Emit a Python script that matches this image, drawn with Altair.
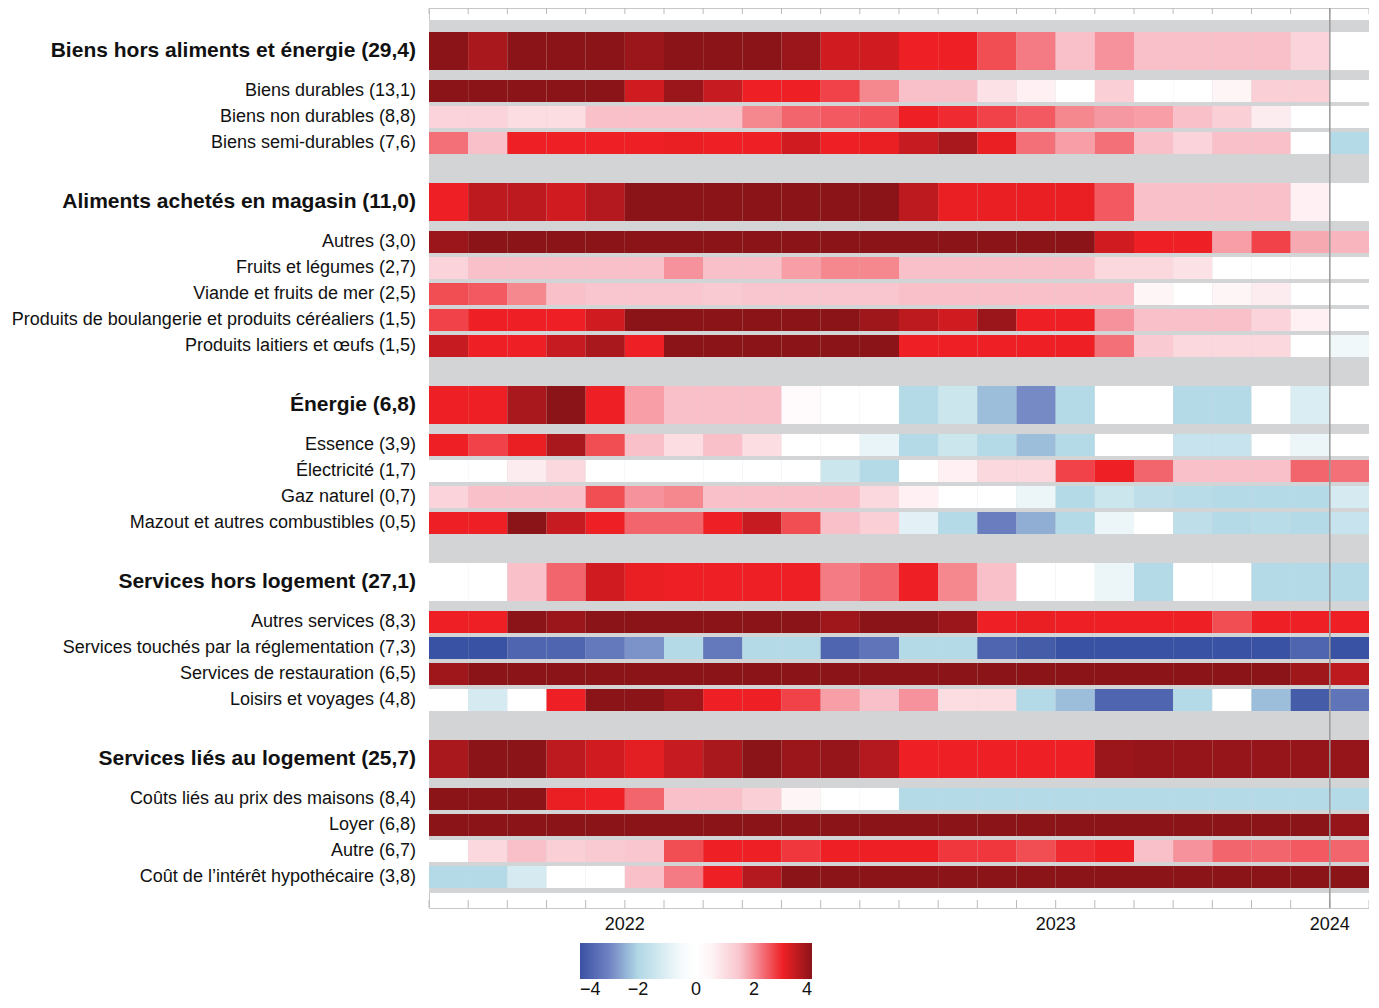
import altair as alt
import pandas as pd

# row labels and whether they are headline rows
labels = [
    "Biens hors aliments et énergie (29,4)", "Biens durables (13,1)", "Biens non durables (8,8)",
    "Biens semi-durables (7,6)",
    "Aliments achetés en magasin (11,0)", "Autres (3,0)", "Fruits et légumes (2,7)",
    "Viande et fruits de mer (2,5)", "Produits de boulangerie et produits céréaliers (1,5)",
    "Produits laitiers et œufs (1,5)",
    "Énergie (6,8)", "Essence (3,9)", "Électricité (1,7)", "Gaz naturel (0,7)",
    "Mazout et autres combustibles (0,5)",
    "Services hors logement (27,1)", "Autres services (8,3)",
    "Services touchés par la réglementation (7,3)", "Services de restauration (6,5)",
    "Loisirs et voyages (4,8)",
    "Services liés au logement (25,7)", "Coûts liés au prix des maisons (8,4)", "Loyer (6,8)",
    "Autre (6,7)", "Coût de l’intérêt hypothécaire (3,8)",
]
heads = [1, 0, 0, 0, 1, 0, 0, 0, 0, 0, 1, 0, 0, 0, 0, 1, 0, 0, 0, 0, 1, 0, 0, 0, 0]

values = [
    [4, 3.7, 4, 4, 4, 3.85, 4, 4, 4, 3.85, 3.3, 3.3, 3, 3, 2.6, 2.2, 1.6, 2, 1.6, 1.6, 1.6, 1.6, 1.2, 0],
    [4, 4, 4, 4, 4, 3.3, 3.85, 3.4, 3, 3, 2.7, 2.1, 1.6, 1.6, 0.9, 0.6, 0.2, 1.3, 0, 0, 0.5, 1.3, 1.3, 0.2],
    [1.2, 1.2, 1, 1, 1.6, 1.6, 1.6, 1.6, 2.1, 2.4, 2.5, 2.55, 3, 2.9, 2.7, 2.5, 2.1, 1.95, 1.9, 1.6, 1.3, 0.7, 0.2, 0.1],
    [2.3, 1.6, 3, 3, 3, 3, 3.05, 3, 3, 3.3, 3, 3.05, 3.4, 3.7, 3.05, 2.3, 1.9, 2.3, 1.6, 1.2, 1.6, 1.6, 0, -1.9],
    [3, 3.5, 3.5, 3.3, 3.6, 4, 4, 4, 4, 4, 4, 4, 3.5, 3.05, 3.05, 3.05, 3.05, 2.5, 1.6, 1.6, 1.6, 1.6, 0.6, 0],
    [3.85, 4, 4, 4, 4, 4, 4, 4, 4, 4, 4, 4, 4, 4, 4, 4, 4, 3.3, 3, 3, 1.9, 2.7, 1.8, 1.7],
    [1.2, 1.6, 1.6, 1.6, 1.6, 1.6, 2, 1.6, 1.6, 1.9, 2.1, 2.1, 1.6, 1.6, 1.6, 1.6, 1.6, 1.1, 1.1, 0.9, 0.2, 0, 0, 0],
    [2.6, 2.5, 2.1, 1.6, 1.5, 1.5, 1.5, 1.4, 1.5, 1.5, 1.5, 1.5, 1.6, 1.6, 1.6, 1.6, 1.6, 1.6, 0.5, 0.2, 0.5, 0.7, 0, 0],
    [2.7, 3, 3, 3, 3.3, 4, 4, 4, 4, 4, 4, 3.8, 3.5, 3.3, 3.85, 3, 3, 2, 1.6, 1.6, 1.6, 1.2, 0.6, 0],
    [3.4, 3, 3, 3.4, 3.7, 3, 4, 4, 4, 4, 4, 4, 3, 3, 3, 3, 3, 2.3, 1.4, 1.1, 1.1, 1.1, 0, -0.6],
    [3, 3, 3.7, 4, 3, 1.9, 1.6, 1.6, 1.6, 0.4, 0, -0.3, -1.9, -1.4, -2.3, -2.9, -1.9, 0, 0, -1.9, -1.9, -0.3, -1.1, 0],
    [3, 2.7, 3.05, 3.7, 2.6, 1.6, 1, 1.6, 1, 0, 0, -0.8, -1.9, -1.4, -1.9, -2.3, -1.9, 0, 0, -1.5, -1.5, 0, -0.7, 0],
    [0.2, 0, 0.7, 1.1, 0, 0, 0, 0, 0, 0, -1.4, -1.9, 0, 0.6, 1.1, 1.1, 2.7, 3, 2.4, 1.6, 1.6, 1.6, 2.4, 2.3],
    [1.2, 1.6, 1.6, 1.6, 2.6, 2, 2.1, 1.6, 1.6, 1.6, 1.6, 1.1, 0.6, 0, -0.2, -0.7, -1.9, -1.4, -1.7, -1.8, -1.9, -1.9, -1.9, -1.2],
    [3, 3, 4, 3.4, 3, 2.4, 2.4, 3, 3.4, 2.6, 1.6, 1.3, -0.9, -1.9, -3.1, -2.5, -1.9, -0.7, 0, -1.7, -1.9, -1.8, -1.9, -1.5],
    [0, 0, 1.6, 2.4, 3.3, 3.05, 3, 3, 3, 3, 2.2, 2.4, 3, 2.1, 1.6, 0, 0, -0.7, -1.9, -0.3, 0, -1.9, -1.9, -1.9],
    [3, 3, 4, 3.85, 4, 4, 4, 4, 4, 4, 3.8, 4, 4, 3.85, 3, 3.05, 3, 3, 3, 3, 2.6, 3, 3, 3],
    [-4, -4, -3.6, -3.6, -3.2, -2.8, -1.9, -3.2, -1.9, -1.9, -3.6, -3.3, -1.9, -1.9, -3.6, -3.8, -4, -4, -4, -4, -4, -4, -3.6, -4],
    [3.8, 4, 4, 4, 4, 4, 4, 4, 4, 4, 4, 4, 4, 4, 4, 4, 4, 4, 4, 4, 4, 4, 3.8, 3.5],
    [0, -1.2, 0, 3, 4, 4, 3.8, 3, 3, 2.7, 1.9, 1.6, 2, 1, 1, -1.9, -2.3, -3.6, -3.6, -1.9, 0, -2.3, -3.8, -3.3],
    [3.7, 4, 4, 3.5, 3.3, 3.1, 3.4, 3.7, 4, 3.85, 3.9, 3.6, 3, 3, 3, 3, 3, 3.85, 3.9, 3.9, 3.9, 3.9, 3.9, 3.9],
    [4, 4, 4, 3.05, 3, 2.4, 1.6, 1.6, 1.3, 0.5, 0, 0, -1.9, -1.9, -1.9, -1.9, -1.9, -1.9, -1.9, -1.9, -1.9, -1.9, -1.9, -1.9],
    [4, 4, 4, 4, 4, 4, 4, 4, 4, 4, 4, 4, 4, 4, 4, 4, 4, 4, 4, 4, 4, 4, 4, 3.9],
    [0, 1.1, 1.6, 1.3, 1.4, 1.5, 2.6, 3, 3, 2.8, 3, 3, 3, 2.8, 2.8, 2.6, 2.9, 3, 1.6, 2, 2.4, 2.4, 2.5, 2.4],
    [-1.9, -1.9, -1.2, 0, 0, 1.6, 2.2, 3, 3.6, 4, 4, 4, 4, 4, 4, 4, 4, 4, 4, 4, 4, 4, 4, 4],
]

year_pos = [5, 16, 23]
year_labels = ["2022", "2023", "2024"]
ticks = list(range(25))

# row layout (in pixels down from the top of the plot)
rows = []
y = 24
for i, (lab, h) in enumerate(zip(labels, heads)):
    if h and i > 0:
        y += 25
    hgt = 38 if h else 22
    rows.append({"label": lab, "head": h, "y0": y, "y1": y + hgt, "yc": y + hgt / 2})
    y += hgt + (10 if h else 4)
rows_df = pd.DataFrame(rows)

cells = []
for r, vals in zip(rows, values):
    for j, v in enumerate(vals):
        cells.append({"col": j, "col2": j + 1, "v": v, "y0": r["y0"], "y1": r["y1"]})
cells_df = pd.DataFrame(cells)

yscale = alt.Scale(domain=[0, 900], reverse=True)
xscale = alt.Scale(domain=[0, 24], nice=False, zero=False)

bg = alt.Chart(pd.DataFrame({"a": [0], "b": [24], "y0": [12], "y1": [885]})).mark_rect(
    color="#d3d4d6").encode(
    x=alt.X("a:Q", scale=xscale, axis=None), x2="b:Q",
    y=alt.Y("y0:Q", scale=yscale, axis=None), y2="y1:Q")

heat = alt.Chart(cells_df).mark_rect().encode(
    x="col:Q", x2="col2:Q",
    y=alt.Y("y0:Q", scale=yscale, axis=None), y2="y1:Q",
    color=alt.Color("v:Q", title=None, scale=alt.Scale(
        domain=[-4, -3, -2, -0.3, 0.3, 1.6, 3, 4],
        range=["#3a52a3", "#6f82c2", "#b0d8e5", "#ffffff", "#ffffff", "#f9c0ca", "#ee2025", "#8b1419"],
        interpolate="rgb", clamp=True),
        legend=alt.Legend(orient="none", legendX=151, legendY=935, direction="horizontal",
                          gradientLength=232, gradientThickness=36, values=[-4, -2, 0, 2, 4],
                          labelFontSize=18, labelFont="Liberation Sans", labelColor="#111",
                          gradientStrokeWidth=0, labelOffset=2)),
)

tick_df = pd.DataFrame({"x": ticks})
bottom_ticks = alt.Chart(tick_df).mark_rule(color="#bbb").encode(
    x="x:Q", y=alt.value(892), y2=alt.value(900))
top_ticks = alt.Chart(tick_df).mark_rule(color="#bbb").encode(
    x="x:Q", y=alt.value(0), y2=alt.value(6))

year_text = alt.Chart(pd.DataFrame({"x": year_pos, "t": year_labels})).mark_text(
    font="Liberation Sans", fontSize=18, color="#111", baseline="middle").encode(
    x="x:Q", y=alt.value(917), text="t:N")

line = alt.Chart(pd.DataFrame({"x": [23]})).mark_rule(color="#999", strokeWidth=1.5).encode(
    x="x:Q", y=alt.value(0), y2=alt.value(900))

head_text = alt.Chart(rows_df[rows_df["head"] == 1]).mark_text(
    align="right", baseline="middle", font="Liberation Sans", color="#111",
    fontSize=21, fontWeight="bold").encode(
    x=alt.value(-13),
    y=alt.Y("yc:Q", scale=yscale, axis=None),
    text="label:N",
)
sub_text = alt.Chart(rows_df[rows_df["head"] == 0]).mark_text(
    align="right", baseline="middle", font="Liberation Sans", color="#111",
    fontSize=18).encode(
    x=alt.value(-13),
    y=alt.Y("yc:Q", scale=yscale, axis=None),
    text="label:N",
)

chart = alt.layer(bg, heat, bottom_ticks, top_ticks, line, year_text, head_text, sub_text).properties(
    width=940, height=900,
    autosize=alt.AutoSizeParams(type="none"),
    padding={"left": 421, "top": 0, "right": 0, "bottom": 91},
).configure_view(stroke="#c8c8c8")

chart.save("out.html", embed_options={"renderer": "svg", "actions": False})
